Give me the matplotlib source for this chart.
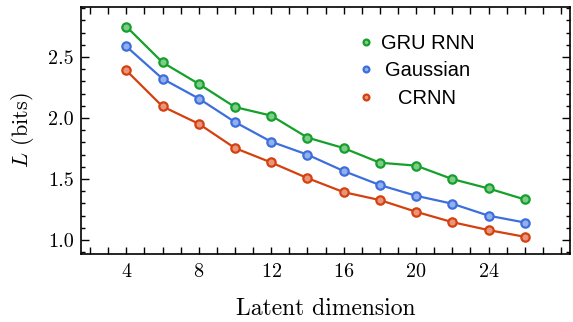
import matplotlib
matplotlib.use("Agg")
import matplotlib.pyplot as plt
import matplotlib.colors as mcolors
import matplotlib.transforms as mtrans
import numpy as np
from matplotlib.ticker import MultipleLocator, FixedLocator

latent_dim = [4, 6, 8, 10, 12, 14, 16, 18, 20, 22, 24, 26]
gru_rnn = [2.75, 2.456, 2.28, 2.09, 2.02, 1.84, 1.754, 1.634, 1.61, 1.50, 1.423, 1.333]
gaussian = [2.587, 2.322, 2.16, 1.967, 1.806, 1.70, 1.566, 1.451, 1.363, 1.298, 1.20, 1.144]
crnn = [2.39, 2.095, 1.953, 1.754, 1.636, 1.508, 1.393, 1.328, 1.232, 1.147, 1.082, 1.027]
labels = ["GRU RNN", "Gaussian", "CRNN"]
colors = ["#14a02a", "#3d6fdc", "#d5400f"]
xticks = [4, 8, 12, 16, 20, 24]
yticks = [1.0, 1.5, 2.0, 2.5]
ytick_labels = ['1.0', '1.5', '2.0', '2.5']

plt.rcParams['font.family'] = 'serif'
plt.rcParams['font.serif'] = ['cmr10']
plt.rcParams['mathtext.fontset'] = 'cm'
plt.rcParams['axes.formatter.use_mathtext'] = True

def lighten(c, f=0.45):
    r = np.array(mcolors.to_rgb(c))
    return tuple(r + (1 - r) * f)

fig = plt.figure(figsize=(5.73, 3.22), dpi=100)
ax = fig.add_axes([0.1414, 0.2127, 0.8534, 0.7656])

for ys, lab, c in zip([gru_rnn, gaussian, crnn], labels, colors):
    ax.plot(latent_dim, ys, '-', color=c, lw=1.6, marker='o', ms=6,
            mfc=lighten(c), mec=c, mew=1.6, zorder=3)

handles = [plt.Line2D([], [], ls='none', marker='o', ms=4.2, mfc=lighten(c), mec=c, mew=1.6)
           for c in colors]
leg = ax.legend(handles, labels, loc='upper left',
                bbox_to_anchor=(359.5 / 573, 1 - 34 / 322), bbox_transform=fig.transFigure,
                frameon=False, handletextpad=0.6, labelspacing=0.42, handlelength=0.6,
                borderpad=0, borderaxespad=0,
                prop={'family': 'Liberation Sans', 'size': 14.5})
fig.canvas.draw()
r = fig.canvas.get_renderer()
texts = leg.get_texts()
widths = [t.get_window_extent(r).width for t in texts]
wmax = max(widths)
for t, w in zip(texts, widths):
    t.set_transform(t.get_transform() + mtrans.Affine2D().translate((wmax - w) / 2 - 3, 0))

ax.set_xlim(1.5, 28.5)
ax.set_ylim(0.89, 2.91)
ax.xaxis.set_major_locator(FixedLocator(xticks))
ax.xaxis.set_minor_locator(MultipleLocator(1))
ax.yaxis.set_major_locator(FixedLocator(yticks))
ax.yaxis.set_minor_locator(MultipleLocator(0.1))
ax.set_yticklabels(ytick_labels)
ax.tick_params(which='both', direction='in', top=True, right=True, labelsize=14.5, width=1.0)
ax.tick_params(axis='x', which='both', length=5)
ax.tick_params(axis='x', which='major', pad=7)
ax.tick_params(axis='y', which='major', length=5.5, pad=5)
ax.tick_params(axis='y', which='minor', length=3)
for s in ax.spines.values():
    s.set_linewidth(1.2)

ax.set_xlabel('Latent dimension', fontsize=17, labelpad=12)
ax.set_ylabel('$L$ (bits)', fontsize=16, labelpad=9)

fig.savefig('out.png', dpi=100)
